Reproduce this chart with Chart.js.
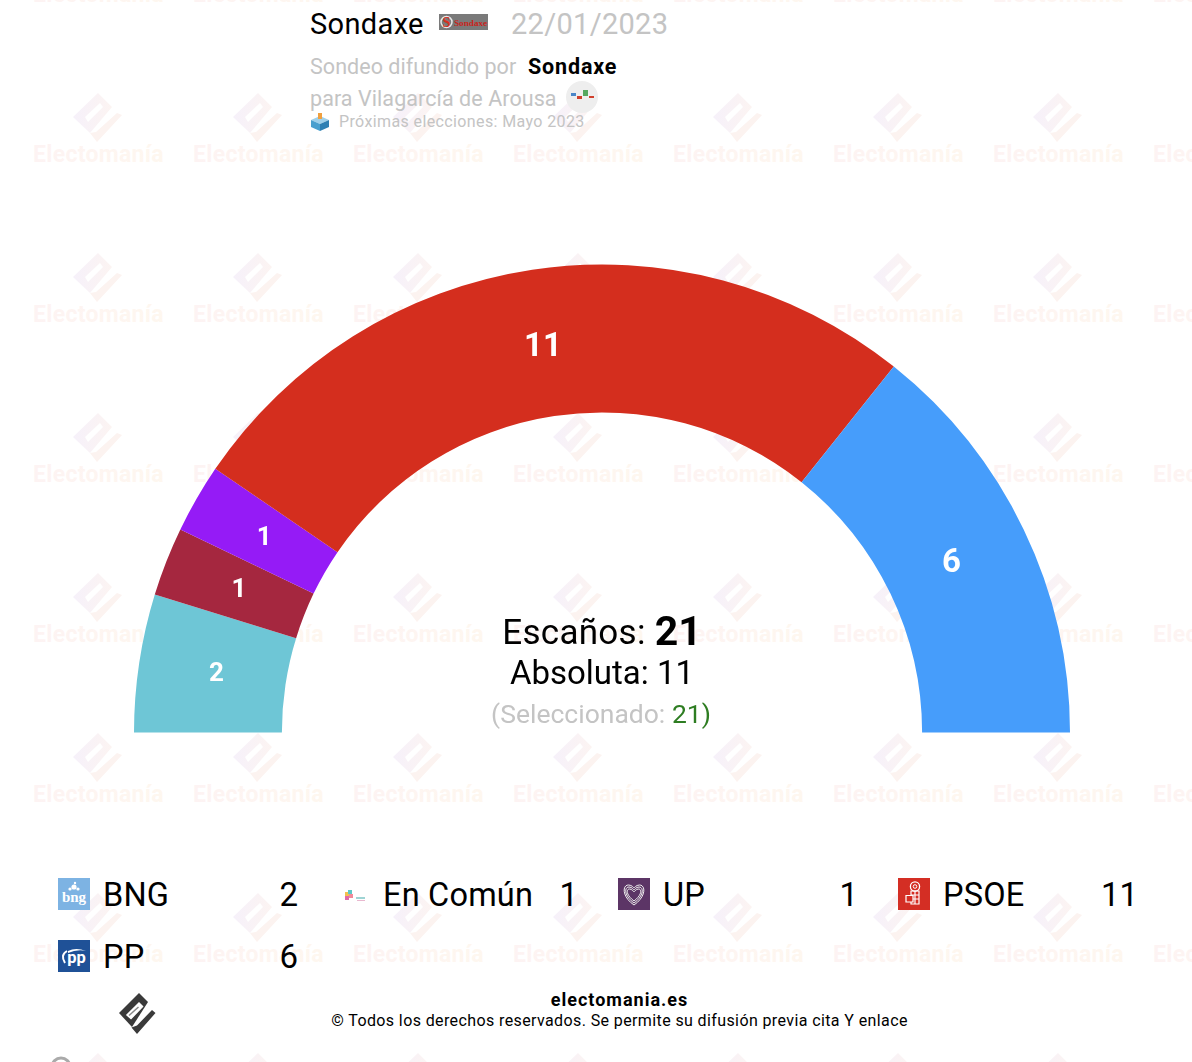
<!DOCTYPE html>
<html><head><meta charset="utf-8">
<script src="https://cdn.jsdelivr.net/npm/chart.js@4"></script>
<style>
html,body{margin:0;padding:0;background:#fff;width:1192px;height:1062px;overflow:hidden;font-family:Roboto,sans-serif}
.t{position:absolute;white-space:nowrap;line-height:1;color:#000}
#wm{position:absolute;left:0;top:0}
#wrap{position:absolute;left:132px;top:262px;width:940px;height:471px}
.ic{position:absolute;width:32px;height:32px}
</style></head><body>
<svg id="wm" width="1192" height="1062" xmlns="http://www.w3.org/2000/svg"></svg>
<div id="wrap"><canvas id="c" width="940" height="471"></canvas></div>

<div class="t" style="left:310px;top:10px;font-size:29px;letter-spacing:.35px">Sondaxe</div>
<svg class="ic" style="left:439px;top:14px;width:49px;height:16px"><rect width="49" height="16" fill="#7a7a7a"/><circle cx="7.5" cy="8" r="5.5" fill="none" stroke="#e8e8e8" stroke-width="1.5"/><text x="7.5" y="13" text-anchor="middle" font-family="Liberation Serif" font-size="14" font-weight="700" fill="#d83020">S</text><text x="15" y="11.5" font-family="Liberation Serif" font-size="9.2" font-weight="700" fill="#c8241c">Sondaxe</text></svg>
<div class="t" style="left:511px;top:10px;font-size:29px;color:#c4c4c4;letter-spacing:.3px">22/01/2023</div>
<div class="t" style="left:310px;top:56px;font-size:21.5px;color:#c4c4c4;letter-spacing:.05px">Sondeo difundido por</div>
<div class="t" style="left:528px;top:56px;font-size:21.5px;font-weight:700;letter-spacing:.85px">Sondaxe</div>
<div class="t" style="left:310px;top:88px;font-size:21.5px;color:#c4c4c4;letter-spacing:.07px">para Vilagarcía de Arousa</div>
<svg class="ic" style="left:566px;top:81px"><circle cx="16" cy="16" r="16" fill="#eeeeee"/><rect x="5" y="12" width="5" height="3" fill="#4a86c8"/><rect x="11" y="15" width="5" height="3" fill="#d0402c"/><rect x="17" y="9" width="5" height="6" fill="#55a860"/><rect x="23" y="15" width="5" height="2" fill="#d0402c"/></svg>
<svg class="ic" style="left:311px;top:112px;width:18px;height:19px"><path d="M9 4 L18 8 L9 12 L0 8Z" fill="#9fd0ea"/><path d="M0 8 L9 12 V19 L0 15Z" fill="#4aa0cf"/><path d="M18 8 L9 12 V19 L18 15Z" fill="#2f80b3"/><rect x="7" y="1" width="4" height="6" fill="#f0a040"/></svg>
<div class="t" style="left:339px;top:114px;font-size:16px;color:#c4c4c4;letter-spacing:.38px">Próximas elecciones: Mayo 2023</div>

<div class="t" style="left:0;width:1204px;top:611px;text-align:center;font-size:35px"><span style="letter-spacing:.3px">Escaños: </span><b style="font-size:41px;vertical-align:-1px">21</b></div>
<div class="t" style="left:0;width:1204px;top:656px;text-align:center;font-size:33px">Absoluta: 11</div>
<div class="t" style="left:0;width:1202px;top:701px;text-align:center;font-size:26.5px;color:#c4c4c4">(Seleccionado: <span style="color:#2e7d22">21)</span></div>

<svg class="ic" style="left:58px;top:878px"><rect width="32" height="32" fill="#7db3e3"/><text x="16" y="23.5" text-anchor="middle" font-family="Liberation Serif" font-size="15" font-weight="700" fill="#fff">bng</text><circle cx="16" cy="9" r="2.6" fill="#fff"/><circle cx="12" cy="11" r="1.6" fill="#fff"/><circle cx="20" cy="11" r="1.6" fill="#fff"/><circle cx="17" cy="5" r="1.2" fill="#fff"/></svg>
<svg class="ic" style="left:338px;top:878px"><rect x="7" y="14" width="4" height="4" fill="#f2c14e"/><rect x="10" y="12" width="4" height="4" fill="#5bc8c8"/><rect x="7" y="18" width="4" height="4" fill="#e06aa8"/><rect x="11" y="16" width="4" height="4" fill="#f08a9a"/><rect x="18" y="19" width="9" height="2" fill="#9fd4d4"/><rect x="19" y="22" width="8" height="1" fill="#e9b8cf"/></svg>
<svg class="ic" style="left:618px;top:878px"><rect width="32" height="32" fill="#5c3566"/><path d="M16 27 C4 19 4 7 10.5 7 C14 7 16 10 16 10 C16 10 18 7 21.5 7 C28 7 28 19 16 27Z" fill="none" stroke="#eee" stroke-width="1"/><path d="M16 25 C6 18 6 9 11 9 C14 9 16 12 16 12 C16 12 18 9 21 9 C26 9 26 18 16 25Z" fill="none" stroke="#eee" stroke-width="1"/><path d="M16 23 C8 17 8 11 11.5 11 C14 11 16 14 16 14 C16 14 18 11 20.5 11 C24 11 24 17 16 23Z" fill="none" stroke="#eee" stroke-width="1"/></svg>
<svg class="ic" style="left:898px;top:878px"><rect width="32" height="32" fill="#d42e24"/><circle cx="17" cy="8.5" r="4.6" fill="none" stroke="#fff" stroke-width="1.3"/><circle cx="17" cy="8.5" r="1.8" fill="none" stroke="#fff" stroke-width="1"/><path d="M13 13 H21 V26 H13 Z M13 17 H21 M13 21 H21 M17 13 V26" fill="none" stroke="#fff" stroke-width="1.2"/><path d="M8 17.5 H15 V24 H8 Z" fill="#d42e24" stroke="#fff" stroke-width="1.2"/></svg>
<svg class="ic" style="left:58px;top:940px"><rect width="32" height="32" fill="#1f5197"/><text x="18.5" y="23" text-anchor="middle" font-family="Roboto" font-size="16.5" font-weight="700" fill="#fff">pp</text><path d="M7 23 Q2 15 9 11" fill="none" stroke="#fff" stroke-width="2"/><path d="M10 11 Q18 7 28 11 Q19 9 10 13Z" fill="#fff"/></svg>

<div id="legend"></div>

<svg class="ic" style="left:118px;top:993px;width:40px;height:42px" viewBox="118 993 40 42"><path d="M139 993 L148 1002 L132 1027 L119 1013Z" fill="#3a3a3a"/><path d="M139 1003 L142.5 1006.5 L131 1018.5 L127 1015Z" fill="#fff" stroke="#fff" stroke-width="1.5"/><path d="M138.5 1007 L129 1015.5" stroke="#888" stroke-width="1.5"/><path d="M152 1010 L155.5 1013 L137 1034 L131.5 1027.5 L137 1025.5Z" fill="#3a3a3a"/></svg>
<div class="t" style="left:0;width:1239px;top:991px;text-align:center;font-size:18px;font-weight:700;letter-spacing:1px">electomania.es</div>
<div class="t" style="left:0;width:1239px;top:1013px;text-align:center;font-size:16px;letter-spacing:.39px">© Todos los derechos reservados. Se permite su difusión previa cita Y enlace</div>
<svg class="ic" style="left:50px;top:1056px;width:22px;height:6px"><circle cx="11" cy="11" r="9" fill="none" stroke="#aaa" stroke-width="3"/></svg>

<script>
const categories = ["BNG", "En Común", "UP", "PSOE", "PP"];
const seats = [2, 1, 1, 11, 6];
const colors = ["#6EC6D6", "#A5273F", "#951BF6", "#D42E1E", "#469DFB"];
const legendX = [103, 383, 663, 943, 103];
const legendY = [879, 879, 879, 879, 941];
const valueY = [878, 878, 878, 878, 940];
const valueRight = [298, 578, 858, 1138, 298];

// legend rows
const lg = document.getElementById('legend');
categories.forEach((c, i) => {
  lg.insertAdjacentHTML('beforeend',
    `<div class="t" style="left:${legendX[i]}px;top:${legendY[i]}px;font-size:32.5px;letter-spacing:.2px">${c}</div>` +
    `<div class="t" style="left:${valueRight[i]-80}px;width:80px;text-align:right;top:${valueY[i]}px;font-size:33px">${seats[i]}</div>`);
});

// watermark
let s = `<defs><linearGradient id="g1" x1="0" x2="1" y1="0" y2="0"><stop offset="0" stop-color="#f6f1fa"/><stop offset="1" stop-color="#fcf4f2"/></linearGradient>
<linearGradient id="g2" x1="0" x2="1" y1="0" y2="0"><stop offset="0" stop-color="#fdf3f3"/><stop offset="1" stop-color="#fef7ef"/></linearGradient></defs>`;
for (let y = -42; y < 1100; y += 160) for (let x = 98; x < 1300; x += 160) {
  s += `<g transform="translate(${x},${y})">
   <path d="M0 -25 L14 -11 L-8 15 L-25 -1Z M2 -15 L5 -11 L-10 4 L-13 -1Z" fill="url(#g1)" fill-rule="evenodd"/>
   <path d="M19 -5 L24 -3 L-1 24 L-8 15 L-2 14Z" fill="#fcf3f0"/>
   <text x="0.5" y="44" text-anchor="middle" font-family="Roboto" font-weight="700" font-size="23" letter-spacing=".3" fill="url(#g2)">Electomanía</text></g>`;
}
document.getElementById('wm').innerHTML = s;

const seatLabels = {
  id: 'seatLabels',
  afterDatasetsDraw(chart) {
    const {ctx} = chart;
    const meta = chart.getDatasetMeta(0);
    ctx.save();
    ctx.fillStyle = '#fff';
    ctx.textAlign = 'center';
    ctx.textBaseline = 'middle';
    meta.data.forEach((arc, i) => {
      const p = arc.getCenterPoint();
      // labels sit slightly inside the ring's middle line
      const x = arc.x + (p.x - arc.x) * 0.987 - 1;
      const y = arc.y + (p.y - arc.y) * 0.987;
      ctx.font = '700 ' + (seats[i] > 5 ? 33 : 26) + 'px Roboto';
      ctx.fillText(String(seats[i]), x, y);
    });
    ctx.restore();
  }
};

new Chart(document.getElementById('c'), {
  type: 'doughnut',
  data: { labels: categories, datasets: [{ data: seats, backgroundColor: colors, borderWidth: 0 }] },
  options: {
    responsive: false,
    animation: false,
    rotation: -90,
    circumference: 180,
    cutout: '68.4%',
    layout: { padding: { left: 2, right: 2, top: 2, bottom: 0 } },
    plugins: { legend: { display: false }, tooltip: { enabled: false }, title: { display: false } }
  },
  plugins: [seatLabels]
});
</script>
</body></html>
